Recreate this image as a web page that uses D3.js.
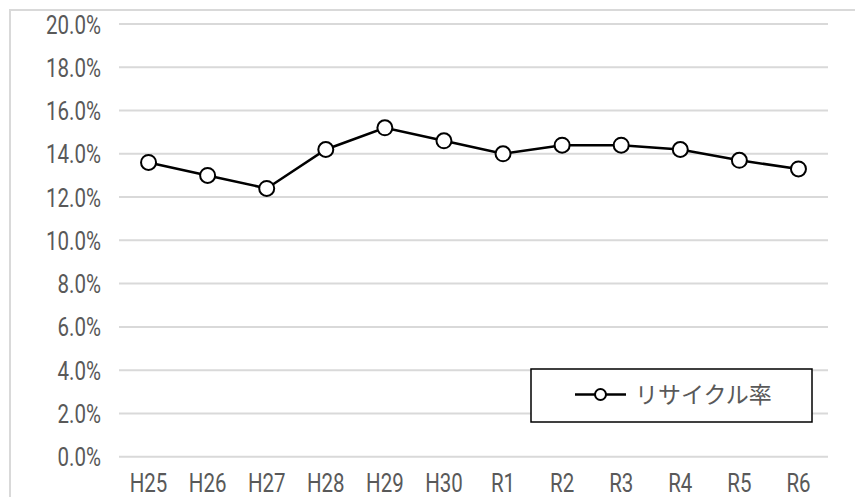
<!DOCTYPE html>
<html>
<head>
<meta charset="utf-8">
<script src="https://cdn.jsdelivr.net/npm/d3@7"></script>
<style>
  body { margin: 0; background: #fff; }
  svg { display: block; }
</style>
</head>
<body>
<div class="chart"></div>
<script>
var categories = ["H25", "H26", "H27", "H28", "H29", "H30", "R1", "R2", "R3", "R4", "R5", "R6"];
var rates = [13.6, 13.0, 12.4, 14.2, 15.2, 14.6, 14.0, 14.4, 14.4, 14.2, 13.7, 13.3];
var yTicks = [0, 2, 4, 6, 8, 10, 12, 14, 16, 18, 20];
var seriesName = "リサイクル率";

var W = 855, H = 497;
var margin = { top: 24, right: 27, bottom: 40, left: 119 };
var width = W - margin.left - margin.right;
var height = 456.7 - margin.top;
var textColor = "#595959";
var sx = 0.82; // narrow glyphs like the reference

var svg = d3.select(".chart").append("svg")
  .attr("width", W)
  .attr("height", H);

// outer chart border (only top/left visible)
svg.append("path")
  .attr("d", "M10," + H + "V10H" + W)
  .attr("fill", "none")
  .attr("stroke", "#d9d9d9")
  .attr("stroke-width", 2);

var chart = svg.append("g")
  .attr("transform", "translate(" + margin.left + "," + margin.top + ")");

var xScale = d3.scaleBand().domain(categories).range([0, width]);
var yScale = d3.scaleLinear().domain([0, 20]).range([height, 0]);

// gridlines
chart.append("g")
  .selectAll("line")
  .data(yTicks)
  .enter().append("line")
  .attr("x1", 0)
  .attr("x2", width)
  .attr("y1", function (d) { return yScale(d); })
  .attr("y2", function (d) { return yScale(d); })
  .attr("stroke", "#d9d9d9")
  .attr("stroke-width", 2);

// y axis labels
var yAxis = chart.append("g")
  .call(d3.axisLeft(yScale).tickValues(yTicks).tickSize(0).tickPadding(0)
    .tickFormat(function (d) { return d.toFixed(1) + "%"; }));
yAxis.select(".domain").remove();
yAxis.selectAll("text")
  .attr("x", -18 / sx)
  .attr("dy", "0.36em")
  .attr("transform", "scale(" + sx + ",1)")
  .style("font-family", "Roboto, sans-serif")
  .style("font-size", "25px")
  .attr("fill", textColor);

// x axis labels
var xAxis = chart.append("g")
  .attr("transform", "translate(0," + height + ")")
  .call(d3.axisBottom(xScale).tickSize(0).tickPadding(0));
xAxis.select(".domain").remove();
xAxis.selectAll("text")
  .attr("y", 35)
  .attr("dy", 0)
  .attr("transform", "scale(" + sx + ",1)")
  .style("font-family", "Roboto, sans-serif")
  .style("font-size", "25px")
  .attr("fill", textColor);

// line
var line = d3.line()
  .x(function (d, i) { return xScale(categories[i]) + xScale.bandwidth() / 2; })
  .y(function (d) { return yScale(d); });

chart.append("path")
  .datum(rates)
  .attr("d", line)
  .attr("fill", "none")
  .attr("stroke", "#000")
  .attr("stroke-width", 2.5);

chart.selectAll(".dot")
  .data(rates)
  .enter().append("circle")
  .attr("class", "dot")
  .attr("cx", function (d, i) { return xScale(categories[i]) + xScale.bandwidth() / 2; })
  .attr("cy", function (d) { return yScale(d); })
  .attr("r", 7.5)
  .attr("fill", "#fff")
  .attr("stroke", "#000")
  .attr("stroke-width", 2);

// legend
var legend = svg.append("g").attr("transform", "translate(531,369)");
legend.append("rect")
  .attr("width", 281)
  .attr("height", 53)
  .attr("fill", "#fff")
  .attr("stroke", "#000")
  .attr("stroke-width", 1.5);
legend.append("line")
  .attr("x1", 44).attr("x2", 95)
  .attr("y1", 25.5).attr("y2", 25.5)
  .attr("stroke", "#000")
  .attr("stroke-width", 2.5);
legend.append("circle")
  .attr("cx", 69.5).attr("cy", 25.5)
  .attr("r", 5.5)
  .attr("fill", "#fff")
  .attr("stroke", "#000")
  .attr("stroke-width", 2);
legend.append("text")
  .attr("x", 104)
  .attr("y", 25.5)
  .attr("dy", "0.36em")
  .style("font-family", "'Noto Sans CJK JP', sans-serif")
  .style("font-size", "23px")
  .attr("fill", textColor)
  .text(seriesName);
</script>
</body>
</html>
